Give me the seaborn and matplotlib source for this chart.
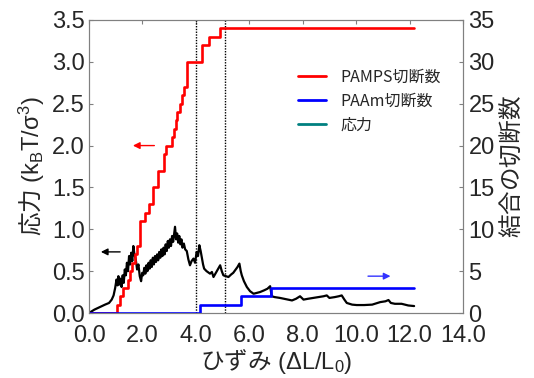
import numpy as np
import pandas as pd
import matplotlib
matplotlib.use('Agg')
import matplotlib.pyplot as plt
import seaborn as sns
from matplotlib.lines import Line2D

# stress-strain curve (left axis)
strain = [0.00, 0.20, 0.40, 0.60, 0.75, 0.85, 0.92, 0.98, 1.03, 1.07,
          1.10, 1.14, 1.18, 1.22, 1.26, 1.30, 1.34, 1.38, 1.42, 1.46,
          1.50, 1.54, 1.58, 1.62, 1.66, 1.70, 1.75, 1.80, 1.85, 1.90,
          1.95, 1.99, 2.03, 2.07, 2.11, 2.15, 2.19, 2.23, 2.27, 2.31,
          2.35, 2.39, 2.43, 2.47, 2.51, 2.55, 2.59, 2.63, 2.67, 2.71,
          2.75, 2.79, 2.83, 2.87, 2.91, 2.95, 2.99, 3.03, 3.07, 3.11,
          3.15, 3.19, 3.22, 3.26, 3.30, 3.34, 3.38, 3.42, 3.46, 3.50,
          3.55, 3.60, 3.66, 3.72, 3.78, 3.84, 3.91, 3.97, 4.03, 4.08,
          4.13, 4.18, 4.22, 4.27, 4.31, 4.40, 4.53, 4.60, 4.66, 4.75,
          4.84, 4.91, 4.97, 5.03, 5.12, 5.22, 5.32, 5.40, 5.47, 5.56,
          5.63, 5.68, 5.72, 5.80, 5.91, 6.03, 6.16, 6.28, 6.40, 6.55,
          6.68, 6.78, 6.84, 6.95, 7.15, 7.30, 7.45, 7.60, 7.75, 7.90,
          8.03, 8.20, 8.40, 8.60, 8.78, 8.90, 9.00, 9.20, 9.35, 9.46,
          9.56, 9.65, 9.85, 10.02, 10.30, 10.60, 10.90, 11.10, 11.21, 11.30,
          11.45, 11.70, 11.95, 12.17]
stress = [0.00, 0.04, 0.07, 0.10, 0.12, 0.16, 0.21, 0.30, 0.40, 0.33,
          0.44, 0.34, 0.41, 0.31, 0.45, 0.36, 0.52, 0.45, 0.60, 0.50,
          0.68, 0.58, 0.72, 0.62, 0.80, 0.70, 0.64, 0.52, 0.58, 0.44,
          0.38, 0.48, 0.45, 0.54, 0.47, 0.57, 0.50, 0.60, 0.53, 0.63,
          0.55, 0.66, 0.58, 0.68, 0.61, 0.70, 0.63, 0.73, 0.66, 0.76,
          0.68, 0.78, 0.70, 0.82, 0.74, 0.86, 0.78, 0.88, 0.80, 0.92,
          0.85, 0.95, 1.03, 0.88, 0.95, 0.84, 0.92, 0.82, 0.88, 0.78,
          0.83, 0.76, 0.74, 0.64, 0.57, 0.62, 0.65, 0.60, 0.73, 0.68,
          0.81, 0.74, 0.67, 0.58, 0.53, 0.50, 0.47, 0.49, 0.43, 0.48,
          0.53, 0.57, 0.50, 0.45, 0.44, 0.43, 0.46, 0.48, 0.51, 0.55,
          0.59, 0.50, 0.45, 0.38, 0.31, 0.26, 0.23, 0.24, 0.25, 0.27,
          0.29, 0.32, 0.20, 0.19, 0.18, 0.17, 0.16, 0.15, 0.17, 0.20,
          0.16, 0.17, 0.18, 0.19, 0.20, 0.21, 0.18, 0.19, 0.20, 0.21,
          0.16, 0.12, 0.10, 0.095, 0.095, 0.10, 0.13, 0.14, 0.155, 0.12,
          0.11, 0.11, 0.09, 0.083]

# bond scission counts (right axis), step data
pamps_x = [0.00, 1.04, 1.16, 1.29, 1.47, 1.55, 1.62, 1.72, 1.80, 1.91,
           2.10, 2.25, 2.40, 2.58, 2.80, 2.88, 3.10, 3.20, 3.25, 3.30,
           3.42, 3.47, 3.56, 3.68, 4.24, 4.49, 4.91, 12.17]
pamps_n = [0, 1, 2, 3, 4, 5, 6, 7, 8, 11,
           12, 13, 15, 17, 19, 20, 21, 22, 23, 24,
           25, 26, 27, 30, 32, 33, 34, 34]
paam_x = [0.00, 4.16, 5.69, 6.82, 12.17]
paam_n = [0, 1, 2, 3, 3]

marker_strain = [4.02, 5.08]

legend_labels = ['PAMPS切断数', 'PAAm切断数', '応力']
legend_colors = ['#ff0000', '#0000ff', '#008080']

sns.set_style('white')
plt.rcParams['font.family'] = ['Liberation Sans', 'Noto Sans CJK JP']
plt.rcParams['mathtext.fontset'] = 'custom'
plt.rcParams['mathtext.rm'] = 'Liberation Sans'
plt.rcParams['mathtext.it'] = 'Liberation Sans:italic'
plt.rcParams['mathtext.bf'] = 'Liberation Sans:bold'
plt.rcParams['mathtext.sf'] = 'Noto Sans CJK JP'

fig = plt.figure(figsize=(5.34, 3.78), dpi=100)
ax = fig.add_axes([89 / 534, 1 - 313 / 378, 374 / 534, 293 / 378])
ax2 = ax.twinx()

sns.lineplot(x=strain, y=stress, ax=ax, color='black', lw=1.6,
             estimator=None, sort=False)
sns.lineplot(x=pamps_x, y=pamps_n, ax=ax2, color='#ff0000', lw=1.9,
             drawstyle='steps-post', estimator=None)
sns.lineplot(x=paam_x, y=paam_n, ax=ax2, color='#0000ff', lw=1.9,
             drawstyle='steps-post', estimator=None)

for xv in marker_strain:
    ax.axvline(xv, color='black', ls=(0, (1, 1)), lw=1)

ax.set_xlim(0, 14)
ax.set_ylim(0, 3.5)
ax2.set_ylim(0, 35)

xt = np.arange(0, 15, 2)
ax.set_xticks(xt)
ax.set_xticklabels([f'{v:.1f}' for v in xt])
yt = np.arange(0, 3.51, 0.5)
ax.set_yticks(yt)
ax.set_yticklabels([f'{v:.1f}' for v in yt])
ax2.set_yticks(np.arange(0, 36, 5))

for a in (ax, ax2):
    for s in a.spines.values():
        s.set_color('#808080')
        s.set_linewidth(0.8)
ax.tick_params(axis='both', direction='in', length=3, color='#808080',
               labelsize=17, top=True)
ax.tick_params(axis='x', pad=9)
ax.tick_params(axis='y', pad=3)
ax2.tick_params(axis='y', direction='in', length=3, color='#808080',
                labelsize=17, pad=4)

ax.set_xlabel('$\\mathsf{ひずみ}$ (ΔL/L$_\\mathrm{0}$)', fontsize=17, labelpad=0)
ax.set_ylabel('$\\mathsf{応力}$ (k$_\\mathrm{B}$T/σ$^\\mathrm{3}$)', fontsize=17, labelpad=4)
ax2.set_ylabel('$\\mathsf{結合の切断数}$', fontsize=17, labelpad=2)

# direction arrows
ax.annotate('', xy=(1.54, 2.0), xytext=(2.55, 2.0),
            arrowprops=dict(arrowstyle='-|>', color='#ff0000', lw=1, mutation_scale=10))
ax.annotate('', xy=(0.34, 0.73), xytext=(1.27, 0.73),
            arrowprops=dict(arrowstyle='-|>', color='black', lw=1, mutation_scale=10))
ax.annotate('', xy=(11.39, 0.44), xytext=(10.34, 0.44),
            arrowprops=dict(arrowstyle='-|>', color='#3333ff', lw=1, mutation_scale=10))

handles = [Line2D([0], [0], color=c, lw=2) for c in legend_colors]
ax2.legend(handles, legend_labels, loc='upper left', bbox_to_anchor=(0.56, 0.835),
           frameon=False, prop={'family': ['Noto Sans CJK JP'], 'size': 11.5},
           handlelength=1.75, handletextpad=0.9, labelspacing=0.45,
           borderpad=0, borderaxespad=0)

fig.savefig('out.png', dpi=100)
